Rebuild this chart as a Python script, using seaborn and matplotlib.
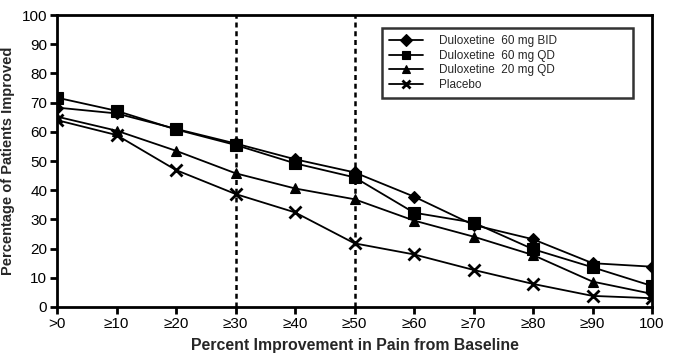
import matplotlib
matplotlib.use("Agg")
import matplotlib.pyplot as plt
import seaborn as sns
import pandas as pd

categories = [">0", "≥10", "≥20", "≥30", "≥40", "≥50", "≥60", "≥70", "≥80", "≥90", "100"]
bid60 = [68.3, 66.3, 61.0, 56.0, 50.6, 46.1, 37.8, 28.1, 23.2, 15.0, 13.8]
qd60 = [71.7, 67.2, 60.8, 55.5, 49.2, 44.4, 32.3, 28.9, 19.8, 13.6, 7.2]
qd20 = [65.2, 60.4, 53.5, 45.8, 40.6, 36.9, 29.6, 24.1, 17.8, 8.7, 4.5]
placebo = [64.0, 58.9, 46.9, 38.7, 32.4, 21.8, 18.0, 12.7, 7.9, 3.8, 3.0]
series_names = ["Duloxetine  60 mg BID", "Duloxetine  60 mg QD", "Duloxetine  20 mg QD", "Placebo"]
ref_lines = [3, 5]

sns.set_style("white")
plt.rcParams["font.family"] = ["Liberation Sans", "DejaVu Sans"]

fig = plt.figure(figsize=(6.74, 3.58), dpi=100)
ax = fig.add_axes([0.0846, 0.1425, 0.8828, 0.8155])

markers = ["D", "s", "^", "x"]
msizes = [6, 8.5, 7, 8]
for name, vals, m, ms in zip(series_names, [bid60, qd60, qd20, placebo], markers, msizes):
    d = pd.DataFrame({"x": list(range(len(vals))), "value": vals})
    sns.lineplot(data=d, x="x", y="value", color="black", marker=m, markersize=ms,
                 markeredgewidth=2.0 if m == "x" else 0.8, markeredgecolor="black",
                 linewidth=1.3, ax=ax, label=name)

for xv in ref_lines:
    ax.axvline(xv, color="black", linestyle=(0, (2, 1.5)), linewidth=1.8, zorder=0)

ax.set_xlim(0, 10)
ax.set_ylim(0, 100)
ax.set_xticks(range(len(categories)))
ax.set_xticklabels(categories)
ax.set_yticks(range(0, 101, 10))
ax.tick_params(axis="both", direction="out", length=5, width=2, labelsize=11, colors="black", pad=2)
ax.tick_params(axis="both", bottom=True, left=True)
for s in ax.spines.values():
    s.set_linewidth(2)
    s.set_color("black")
ax.set_xlabel("Percent Improvement in Pain from Baseline", fontsize=11.4, fontweight="bold", labelpad=5)
ax.set_ylabel("Percentage of Patients Improved", fontsize=10.5, fontweight="bold", labelpad=5)

handles, labels = ax.get_legend_handles_labels()
leg = ax.legend(handles, labels, loc="upper left", bbox_to_anchor=(0.546, 0.955, 0.422, 0.0),
                mode="expand", frameon=True, fancybox=False, fontsize=8.5, handlelength=2.9,
                borderpad=0.6, labelspacing=0.22, handletextpad=1.3,
                edgecolor="black", borderaxespad=0)
leg.get_frame().set_linewidth(1.8)
for h in leg.legend_handles:
    h.set_markersize(6)

fig.savefig("out.png", dpi=100)
